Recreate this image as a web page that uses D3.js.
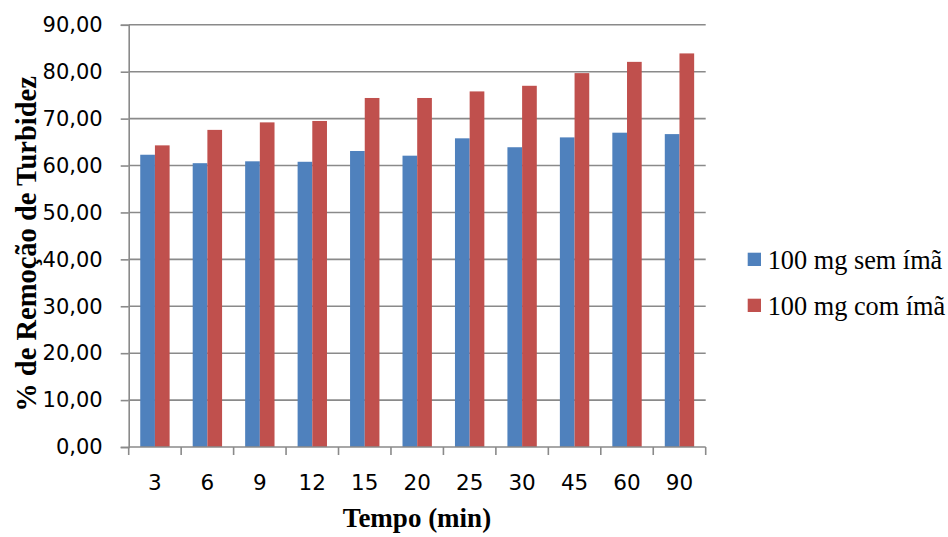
<!DOCTYPE html>
<html>
<head>
<meta charset="utf-8">
<script src="https://cdn.jsdelivr.net/npm/d3@7"></script>
<style>
  html, body { margin: 0; padding: 0; background: #fff; }
  svg { display: block; }
  .serif { font-family: "Liberation Serif", "Times New Roman", Times, serif; }
  .sans { font-family: "DejaVu Sans", Verdana, sans-serif; }
</style>
</head>
<body>
<svg id="chart" width="948" height="537"></svg>
<script>
// Turbidity removal (%) over time, with and without magnet
const categories = ["3", "6", "9", "12", "15", "20", "25", "30", "45", "60", "90"];
const semIma = [62.3, 60.5, 60.9, 60.8, 63.1, 62.1, 65.8, 63.9, 66.0, 67.0, 66.7];
const comIma = [64.3, 67.6, 69.2, 69.5, 74.4, 74.4, 75.8, 77.0, 79.7, 82.1, 83.9];
const seriesNames = ["100 mg sem ímã", "100 mg com ímã"];
const seriesColors = ["#4F81BD", "#C0504D"];
const yTicks = [0, 10, 20, 30, 40, 50, 60, 70, 80, 90];

const svg = d3.select("#chart");
const plotLeft = 128.7, plotRight = 705.7, plotTop = 24.8, plotBottom = 447;

const x = d3.scaleBand().domain(categories).range([plotLeft, plotRight])
  .paddingInner(0.44).paddingOuter(0.22);
const inner = d3.scaleBand().domain([0, 1]).range([0, x.bandwidth()]);
const y = d3.scaleLinear().domain([0, 90]).range([plotBottom, plotTop]);

const gridColor = "#8a8a8a";
const fmt = v => v.toFixed(2).replace(".", ",");

// horizontal gridlines
svg.append("g").selectAll("line").data(yTicks.filter(v => v > 0)).join("line")
  .attr("x1", plotLeft).attr("x2", plotRight)
  .attr("y1", d => y(d)).attr("y2", d => y(d))
  .attr("stroke", gridColor).attr("stroke-width", 1.6);

// bars
const series = [semIma, comIma];
series.forEach((vals, si) => {
  svg.append("g").selectAll("rect").data(vals).join("rect")
    .attr("x", (d, i) => x(categories[i]) + inner(si))
    .attr("width", inner.bandwidth())
    .attr("y", d => y(d))
    .attr("height", d => y(0) - y(d))
    .attr("fill", seriesColors[si]);
});

// y axis
const yAxis = svg.append("g").attr("transform", `translate(${plotLeft},0)`)
  .call(d3.axisLeft(y).tickValues(yTicks).tickFormat(fmt).tickSize(8).tickPadding(18));
yAxis.select(".domain").attr("stroke", gridColor).attr("stroke-width", 1.6);
yAxis.selectAll(".tick line").attr("stroke", gridColor).attr("stroke-width", 1.6);
yAxis.selectAll("text").attr("class", "sans").attr("font-size", 21)
  .attr("fill", "#000");

// x axis
const xAxis = svg.append("g").attr("transform", `translate(0,${plotBottom})`)
  .call(d3.axisBottom(x).tickSize(0).tickPadding(27.5));
xAxis.select(".domain").attr("stroke", gridColor).attr("stroke-width", 1.6)
  .attr("d", `M${plotLeft},0H${plotRight}`);
xAxis.selectAll("text").attr("class", "sans").attr("font-size", 21.5)
  .attr("fill", "#000");
// category boundary ticks
const bounds = d3.range(categories.length + 1).map(i =>
  i < categories.length ? x(categories[i]) - x.step() * x.paddingInner() / 2 : plotRight);
xAxis.append("g").selectAll("line").data(bounds).join("line")
  .attr("x1", d => d).attr("x2", d => d).attr("y1", 0).attr("y2", 8)
  .attr("stroke", gridColor).attr("stroke-width", 1.6);
svg.selectAll("g[font-family]").attr("font-family", null);

// axis titles
svg.append("text").attr("class", "serif")
  .attr("x", 417).attr("y", 527)
  .attr("text-anchor", "middle")
  .attr("font-weight", "bold").attr("font-size", 27)
  .text("Tempo (min)");
svg.append("text").attr("class", "serif")
  .attr("transform", "translate(35.5,244) rotate(-90)")
  .attr("text-anchor", "middle")
  .attr("font-weight", "bold").attr("font-size", 28.5)
  .text("% de Remoção de Turbidez");

// legend
const legend = svg.append("g").attr("transform", "translate(747.7,252.7)");
seriesNames.forEach((name, i) => {
  const g = legend.append("g").attr("transform", `translate(0,${i * 46})`);
  g.append("rect").attr("width", 13.3).attr("height", 13.3).attr("fill", seriesColors[i]);
  g.append("text").attr("class", "serif").attr("x", 20).attr("y", 16.3)
    .attr("font-size", 26.3).attr("fill", "#000")
    .text(name);
});
</script>
</body>
</html>
